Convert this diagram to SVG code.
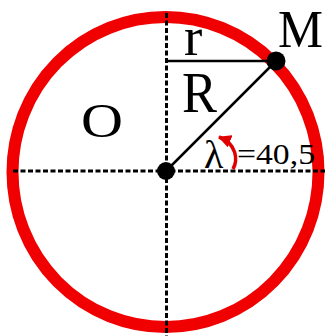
<svg xmlns="http://www.w3.org/2000/svg" width="329" height="336" viewBox="0 0 329 336">
<style>
.axis{stroke:#000;stroke-width:3;stroke-dasharray:5 2.5;fill:none}
.line{stroke:#000;stroke-width:2.5;fill:none}
.dot{fill:#000}
.lbl{font-family:"Liberation Serif","Times New Roman",serif;fill:#000}
.arc{stroke:#e00000;stroke-width:3.5;fill:none}
</style>
<defs>
<marker id="ah" markerUnits="userSpaceOnUse" markerWidth="14" markerHeight="13" refX="12" refY="6.5" orient="auto">
<path d="M0,0 L13,6.5 L0,13 Z" fill="#e00000"/>
</marker>
</defs>
<rect width="329" height="336" fill="#fff"/>
<g id="circle">
<ellipse cx="165.5" cy="172" rx="153" ry="155" fill="none" stroke="#f00000" stroke-width="12"/>
</g>
<g id="connectors">
<line class="axis" x1="13" y1="171" x2="325" y2="171"/>
<line class="axis" x1="166.5" y1="13" x2="166.5" y2="336"/>
<line class="line" x1="166" y1="61" x2="276" y2="61"/>
<line class="line" x1="166" y1="171" x2="276" y2="61"/>
<path class="arc" d="M233,169 C238,160 237,144 219,137" marker-end="url(#ah)"/>
</g>
<g id="O-center">
<circle class="dot" cx="166" cy="171" r="9"/>
</g>
<g id="M-point">
<circle class="dot" cx="276" cy="61" r="9.5"/>
<text class="lbl" x="278" y="47" font-size="52" textLength="45" lengthAdjust="spacingAndGlyphs">M</text>
</g>
<g id="label-r">
<text class="lbl" x="184" y="55" font-size="55">r</text>
</g>
<g id="label-R">
<text class="lbl" x="182" y="112" font-size="57" textLength="35" lengthAdjust="spacingAndGlyphs">R</text>
</g>
<g id="label-O">
<text class="lbl" x="81" y="137" font-size="48" textLength="42" lengthAdjust="spacingAndGlyphs">O</text>
</g>
<g id="label-lambda">
<text class="lbl" x="204" y="168" font-size="40">λ</text>
<text class="lbl" x="237" y="164" font-size="29" textLength="78" lengthAdjust="spacingAndGlyphs">=40,5</text>
</g>
</svg>
